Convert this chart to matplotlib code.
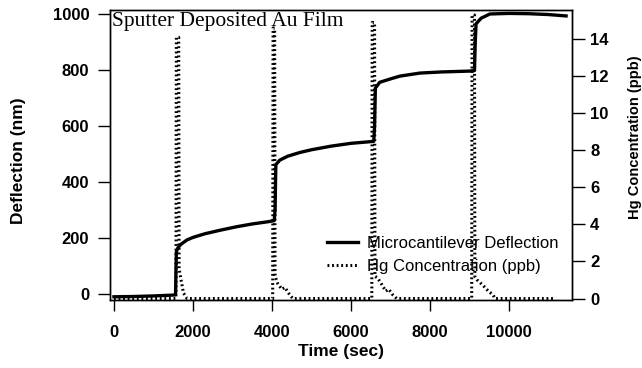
import numpy as np
import matplotlib
matplotlib.use("Agg")
import matplotlib.pyplot as plt

## data
defl_time = [0, 500, 1000, 1500, 1560, 1580, 1620, 1700, 1850, 2000, 2300, 2700, 3100,
             3500, 3900, 4060, 4080, 4100, 4200, 4400, 4700, 5000, 5500, 6000, 6580,
             6600, 6620, 6730, 7000, 7240, 7750, 8300, 9000, 9130, 9150, 9170, 9300,
             9520, 10000, 10500, 11000, 11450]
defl_nm = [-10, -9, -7, -4, -2, 150, 165, 178, 193, 202, 215, 228, 240,
           250, 258, 262, 300, 462, 478, 492, 505, 515, 528, 538, 545,
           600, 735, 756, 768, 778, 789, 793, 796, 798, 900, 965, 985,
           1000, 1002, 1001, 998, 993]

hg_time = [0, 1570, 1580, 1640, 1650, 1700, 1760, 1850, 4020, 4030, 4070, 4080,
           4150, 4250, 4330, 4450, 4530, 6530, 6540, 6600, 6610, 6680, 6800, 6880,
           6960, 7060, 7160, 9060, 9070, 9130, 9140, 9200, 9350, 9480, 9600, 9650, 11150]
hg_ppb = [0, 0, 14.1, 14.1, 1.6, 1.0, 0.3, 0, 0, 14.6, 14.6, 1.2,
          0.8, 0.5, 0.6, 0.2, 0, 0, 14.9, 14.9, 1.2, 1.1, 0.7, 0.4,
          0.5, 0.2, 0, 0, 15.3, 15.3, 1.2, 1.0, 0.7, 0.4, 0.2, 0, 0]

x_ticks = [0, 2000, 4000, 6000, 8000, 10000]
y_ticks = [0, 200, 400, 600, 800, 1000]
hg_ticks = [0, 2, 4, 6, 8, 10, 12, 14]

sans = ['Liberation Sans', 'DejaVu Sans']
tick_font = dict(family=sans, weight='bold', size=12)
label_font = dict(family=sans, weight='bold', size=12.5)

fig = plt.figure(figsize=(6.42, 3.68), dpi=100)
ax = fig.add_axes([110/642, 68/368, 462/642, 290.5/368])
ax2 = ax.twinx()

l1, = ax.plot(defl_time, defl_nm, color='black', lw=2.4, solid_joinstyle='round')
l2, = ax2.plot(hg_time, hg_ppb, color='black', lw=2.2, ls=(0, (0.6, 0.9)))

ax.set_xlim(-100, 11600)
ax.set_ylim(-21.5, 1016)
ax2.set_ylim(-0.08, 15.6)

ax.set_xticks(x_ticks)
ax.set_yticks(y_ticks)
ax2.set_yticks(hg_ticks)
ax.set_xticklabels([str(t) for t in x_ticks], fontdict=tick_font)
ax.set_yticklabels([str(t) for t in y_ticks], fontdict=tick_font)
ax2.set_yticklabels([str(t) for t in hg_ticks], fontdict=tick_font)

ax.tick_params(axis='x', direction='out', length=8, width=1, pad=10)
ax.tick_params(axis='y', direction='out', length=9, width=1, pad=6)
ax2.tick_params(axis='y', direction='out', length=9, width=1, pad=4)
for a in (ax, ax2):
    for s in a.spines.values():
        s.set_linewidth(1)

ax.set_xlabel("Time (sec)", fontdict=label_font)
ax.xaxis.set_label_coords(0.5, -0.15)
ax.set_ylabel("Deflection (nm)", fontdict=label_font)
ax.yaxis.set_label_coords(-0.182, 0.48)
ax2.set_ylabel("Hg Concentration (ppb)", fontdict=dict(family=sans, weight='bold', size=10.5))
ax2.yaxis.set_label_coords(1.121, 0.56)

ax.text(0.004, 0.99, "Sputter Deposited Au Film", transform=ax.transAxes,
        ha='left', va='top', family=['Liberation Serif', 'DejaVu Serif'], size=15.5)

leg = ax.legend([l1, l2], ["Microcantilever Deflection", "Hg Concentration (ppb)"],
                loc='lower right', bbox_to_anchor=(0.995, 0.05), frameon=False,
                prop=dict(family=sans, size=12),
                handlelength=1.9, handletextpad=0.5, labelspacing=0.45, borderpad=0.2)

plt.savefig("out.png", dpi=100)
